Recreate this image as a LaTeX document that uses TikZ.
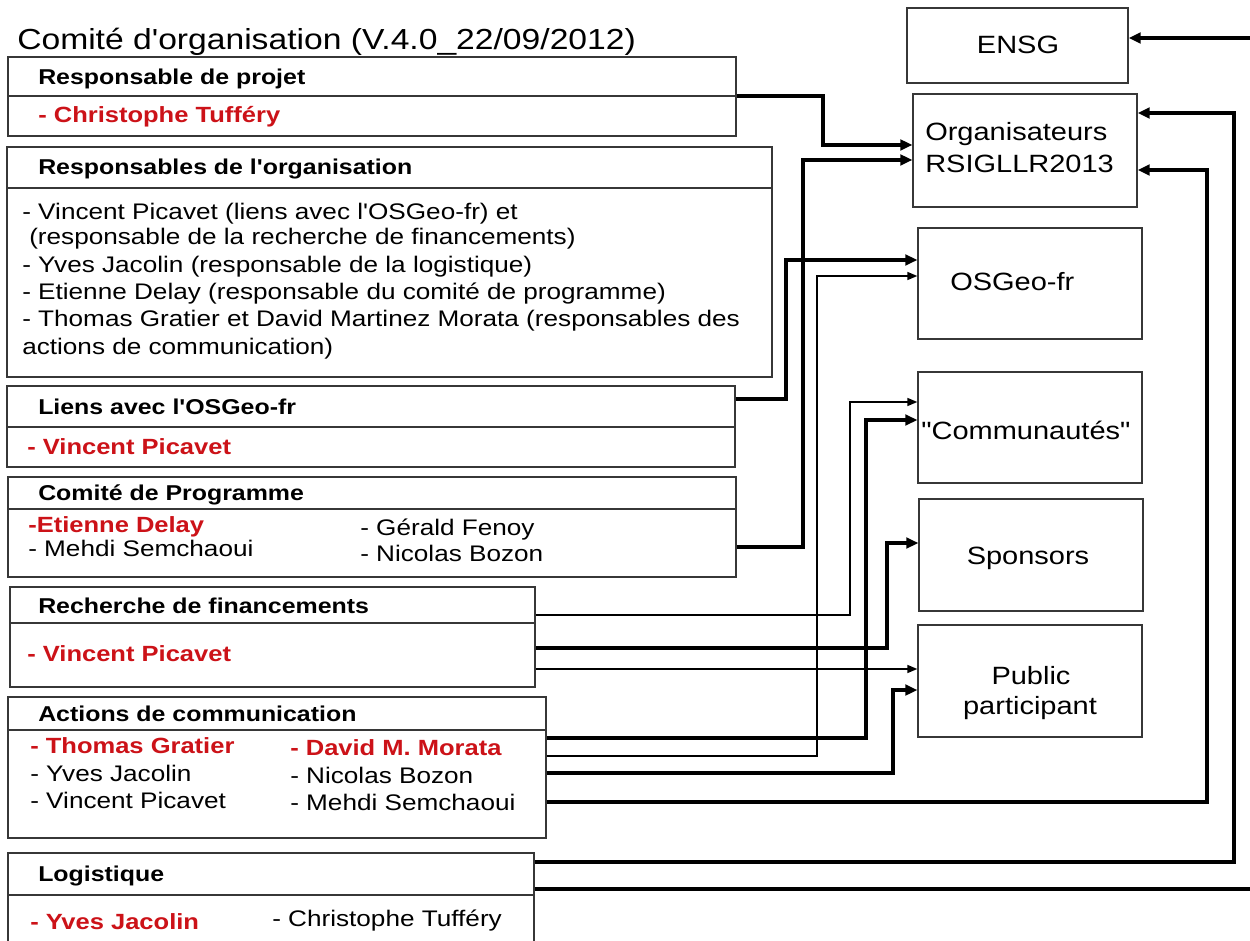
\documentclass[tikz,border=0pt]{standalone}
\usepackage{fontspec}
\setmainfont[FakeStretch=1.16,Ligatures=TeXOff]{Liberation Sans}
\usetikzlibrary{arrows.meta,fit}
\definecolor{redname}{RGB}{204,18,24}
\definecolor{frame}{RGB}{55,55,55}
\newcommand\fsz[1]{\fontsize{#1}{#1}\selectfont}
\begin{document}
\begin{tikzpicture}[x=0.75pt,y=-0.75pt,
  box/.style={draw=frame, line width=1pt, inner sep=0pt},
  sepline/.style={draw=frame, line width=1pt},
  txt/.style={anchor=base west, inner sep=0pt, font=\fsz{16.9pt}},
  hdr/.style={anchor=base west, inner sep=0pt, font=\fsz{16.1pt}\bfseries},
  rname/.style={anchor=base west, inner sep=0pt, font=\fsz{16.5pt}\bfseries, text=redname},
  rtxt/.style={anchor=base, inner sep=0pt, font=\fsz{18.75pt}},
  thickc/.style={line width=3pt, -{Triangle[length=9pt,width=8pt]}},
  thickn/.style={line width=3pt},
  thinc/.style={line width=1.1pt, -{Triangle[length=7.5pt,width=6pt]}}
]
\clip (0,0) rectangle (1250,941);
\fill[white] (0,0) rectangle (1250,941);

% title
\node[anchor=base west, inner sep=0pt, font=\fsz{21.75pt}] (title) at (17,50) {Comité d'organisation (V.4.0\_22/09/2012)};

% left boxes
\node[box, fit={(8,57) (736,136)}] (b1) {};
\draw[sepline] (b1.west |- 0,96) -- (b1.east |- 0,96);
\node[hdr] (b1h) at (38,85) {Responsable de projet};
\node[rname] (b1n) at (38,123) {- Christophe Tufféry};

\node[box, fit={(7,147) (772,377)}] (b2) {};
\draw[sepline] (b2.west |- 0,188) -- (b2.east |- 0,188);
\node[hdr] (b2h) at (38,175) {Responsables de l'organisation};
\node[txt] (b2l1) at (22,220) {- Vincent Picavet (liens avec l'OSGeo-fr) et};
\node[txt] (b2l2) at (29,245) {(responsable de la recherche de financements)};
\node[txt] (b2l3) at (22,273) {- Yves Jacolin (responsable de la logistique)};
\node[txt] (b2l4) at (22,300) {- Etienne Delay (responsable du comité de programme)};
\node[txt] (b2l5) at (22,327) {- Thomas Gratier et David Martinez Morata (responsables des};
\node[txt] (b2l6) at (22,354) {actions de communication)};

\node[box, fit={(7,386) (735,467)}] (b3) {};
\draw[sepline] (b3.west |- 0,427) -- (b3.east |- 0,427);
\node[hdr] (b3h) at (38,415) {Liens avec l'OSGeo-fr};
\node[rname] (b3n) at (27,455) {- Vincent Picavet};

\node[box, fit={(8,477) (736,577)}] (b4) {};
\draw[sepline] (b4.west |- 0,509) -- (b4.east |- 0,509);
\node[hdr] (b4h) at (38,500) {Comité de Programme};
\node[rname] (b4n) at (28,532) {-Etienne Delay};
\node[txt] (b4a) at (28,556) {- Mehdi Semchaoui};
\node[txt] (b4b) at (360,535) {- Gérald Fenoy};
\node[txt] (b4c) at (360,561) {- Nicolas Bozon};

\node[box, fit={(10,587) (535,687)}] (b5) {};
\draw[sepline] (b5.west |- 0,623) -- (b5.east |- 0,623);
\node[hdr] (b5h) at (38,613) {Recherche de financements};
\node[rname] (b5n) at (27,661) {- Vincent Picavet};

\node[box, fit={(8,697) (546,838)}] (b6) {};
\draw[sepline] (b6.west |- 0,730) -- (b6.east |- 0,730);
\node[hdr] (b6h) at (38,721) {Actions de communication};
\node[rname] (b6n1) at (30,753) {- Thomas Gratier};
\node[txt] (b6a) at (30,781) {- Yves Jacolin};
\node[txt] (b6b) at (30,808) {- Vincent Picavet};
\node[rname] (b6n2) at (290,755) {- David M. Morata};
\node[txt] (b6c) at (290,783) {- Nicolas Bozon};
\node[txt] (b6d) at (290,810) {- Mehdi Semchaoui};

\node[box, fit={(8,853) (534,960)}] (b7) {};
\draw[sepline] (b7.west |- 0,895) -- (b7.east |- 0,895);
\node[hdr] (b7h) at (38,881) {Logistique};
\node[rname] (b7n) at (30,929) {- Yves Jacolin};
\node[txt] (b7a) at (272,926) {- Christophe Tufféry};

% right boxes
\node[box, fit={(907,8) (1128,83)}] (ensg) {};
\node[rtxt] (ensgt) at (1018,54) {ENSG};
\node[box, fit={(913,94) (1137,207)}] (org) {};
\node[rtxt, anchor=base west] (orgt1) at (925,141) {Organisateurs};
\node[rtxt, anchor=base west] (orgt2) at (925,173) {RSIGLLR2013};
\node[box, fit={(918,228) (1142,339)}] (osgeo) {};
\node[rtxt, anchor=base west] (osgeot) at (950,291) {OSGeo-fr};
\node[box, fit={(918,372) (1142,483)}] (comm) {};
\node[rtxt, anchor=base west] (commt) at (921,439) {"Communautés"};
\node[box, fit={(919,499) (1143,611)}] (spons) {};
\node[rtxt] (sponst) at (1028,564) {Sponsors};
\node[box, fit={(918,625) (1142,737)}] (pub) {};
\node[rtxt] (pubt1) at (1031,684) {Public};
\node[rtxt] (pubt2) at (1030,714) {participant};

% free ends at the right edge
\coordinate (edgeB) at (1260,889);
\coordinate (edgeT) at (1260,38);

% connectors
\draw[thickc] (b1.east |- 0,96) -- (823,96) -- (823,145) -- (org.west |- 0,145);
\draw[thickc] (b4.east |- 0,547) -- (803,547) -- (803,160) -- (org.west |- 0,160);
\draw[thickc] (b3.east |- 0,399) -- (786,399) -- (786,260) -- (osgeo.west |- 0,260);
\draw[thinc] (b6.east |- 0,756) -- (817,756) -- (817,276) -- (osgeo.west |- 0,276);
\draw[thinc] (b5.east |- 0,615) -- (850,615) -- (850,402) -- (comm.west |- 0,402);
\draw[thickc] (b6.east |- 0,738) -- (866,738) -- (866,420) -- (comm.west |- 0,420);
\draw[thickc] (b5.east |- 0,648) -- (887,648) -- (887,543) -- (spons.west |- 0,543);
\draw[thinc] (b5.east |- 0,669) -- (pub.west |- 0,669);
\draw[thickc] (b6.east |- 0,773) -- (893,773) -- (893,690) -- (pub.west |- 0,690);
\draw[thickc] (b6.east |- 0,802) -- (1207,802) -- (1207,170) -- (org.east |- 0,170);
\draw[thickc] (b7.east |- 0,862) -- (1234,862) -- (1234,113) -- (org.east |- 0,113);
\draw[thickn] (b7.east |- 0,889) -- (edgeB);
\draw[thickc] (edgeT) -- (ensg.east |- 0,38);
\end{tikzpicture}
\end{document}
